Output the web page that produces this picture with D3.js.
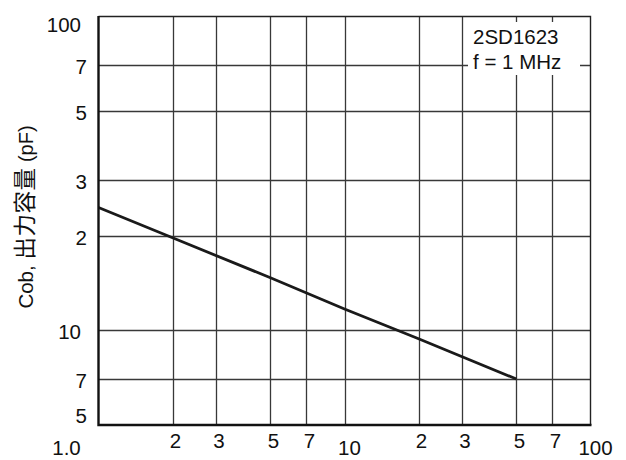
<!DOCTYPE html>
<html>
<head>
<meta charset="utf-8">
<script src="https://cdn.jsdelivr.net/npm/d3@7"></script>
<style>
  html, body { margin: 0; padding: 0; background: #fff; }
  svg { display: block; font-family: "Liberation Sans", Arial, Helvetica, "Noto Sans CJK JP", sans-serif; }
</style>
</head>
<body>
<svg id="chart" width="626" height="460"></svg>
<script>
// Collector-to-base voltage (V) vs output capacitance Cob (pF), log-log
const vcb = [1, 2, 5, 10, 20, 50];
const cob = [24.6, 19.7, 14.7, 11.7, 9.4, 7.0];

// Grid / tick values and their printed labels
const xTicks = [1, 2, 3, 5, 7, 10, 20, 30, 50, 70, 100];
const xTickLabels = ["1.0", "2", "3", "5", "7", "10", "2", "3", "5", "7", "100"];
const yTicks = [5, 7, 10, 20, 30, 50, 70, 100];
const yTickLabels = ["5", "7", "10", "2", "3", "5", "7", "100"];

const titleLines = ["2SD1623", "f = 1 MHz"];
// y axis title pieces: Latin, CJK, Latin
const yTitleParts = ["Cob, ", "出力容量", " (pF)"];

const svg = d3.select("#chart");
const plotL = 98.5, plotR = 590.5, plotT = 16, plotB = 425;

const x = d3.scaleLog().domain([1, 100]).range([plotL, plotR]);
const y = d3.scaleLog().domain([5, 100]).range([plotB, plotT]);

const gridColor = "#383838";
const fs = 20.5;

// vertical grid lines
svg.append("g").selectAll("line")
  .data(xTicks.filter(d => d > 1 && d < 100))
  .join("line")
  .attr("x1", d => Math.round(x(d)) + 0.5).attr("x2", d => Math.round(x(d)) + 0.5)
  .attr("y1", plotT).attr("y2", plotB)
  .attr("stroke", gridColor).attr("stroke-width", 1.3);

// horizontal grid lines
svg.append("g").selectAll("line")
  .data(yTicks.filter(d => d > 5 && d < 100))
  .join("line")
  .attr("y1", d => Math.round(y(d)) + 0.5).attr("y2", d => Math.round(y(d)) + 0.5)
  .attr("x1", plotL).attr("x2", plotR)
  .attr("stroke", gridColor).attr("stroke-width", 1.3);

// top and right frame
svg.append("path")
  .attr("d", `M${plotL},${plotT + 0.5}H${plotR}V${plotB}`)
  .attr("fill", "none").attr("stroke", "#222").attr("stroke-width", 1.4);

// legend block clears the grid behind it
svg.append("rect")
  .attr("x", 468).attr("y", 22).attr("width", 112).attr("height", 53)
  .attr("fill", "#fff");

const legend = svg.append("g").attr("font-size", fs).attr("fill", "#111");
titleLines.forEach((t, i) => {
  legend.append("text").attr("x", 473).attr("y", 43.5 + i * 25.5).text(t);
});

// Cob curve
const line = d3.line().x((d, i) => x(vcb[i])).y(d => y(d));
svg.append("path")
  .datum(cob)
  .attr("d", line)
  .attr("fill", "none").attr("stroke", "#1a1a1a").attr("stroke-width", 2.8)
  .attr("stroke-linejoin", "round");

// left and bottom axes (heavy)
svg.append("path")
  .attr("d", `M${plotL},${plotT}V${plotB}H${plotR + 1}`)
  .attr("fill", "none").attr("stroke", "#111").attr("stroke-width", 2.4);

// x tick labels
const xl = svg.append("g").attr("font-size", fs).attr("fill", "#111").attr("text-anchor", "middle");
xTicks.forEach((v, i) => {
  const lab = xTickLabels[i];
  let dx = 3, base = 448;
  if (lab.length > 1) base = 455;
  if (v === 1) dx = -32;
  if (v === 10) dx = 5;
  if (v === 100) dx = 5;
  xl.append("text").attr("x", x(v) + dx).attr("y", base).text(lab);
});

// y tick labels
const yl = svg.append("g").attr("font-size", fs).attr("fill", "#111").attr("text-anchor", "end");
yTicks.forEach((v, i) => {
  const lab = yTickLabels[i];
  let ex = lab.length > 1 ? 81 : 87;
  let dy = 9;
  if (v === 100) dy = 16;
  if (v === 5) dy = -2;
  yl.append("text").attr("x", ex).attr("y", y(v) + dy).text(lab);
});

// y axis title
const yt = svg.append("text")
  .attr("transform", `translate(33,217) rotate(-90)`)
  .attr("text-anchor", "middle")
  .attr("fill", "#111");
const partSizes = [20.5, 22.5, 20];
yTitleParts.forEach((p, i) => {
  yt.append("tspan").attr("font-size", partSizes[i])
    .attr("letter-spacing", i === 1 ? 0.5 : 0)
    .style("white-space", "pre").text(p);
});
</script>
</body>
</html>
